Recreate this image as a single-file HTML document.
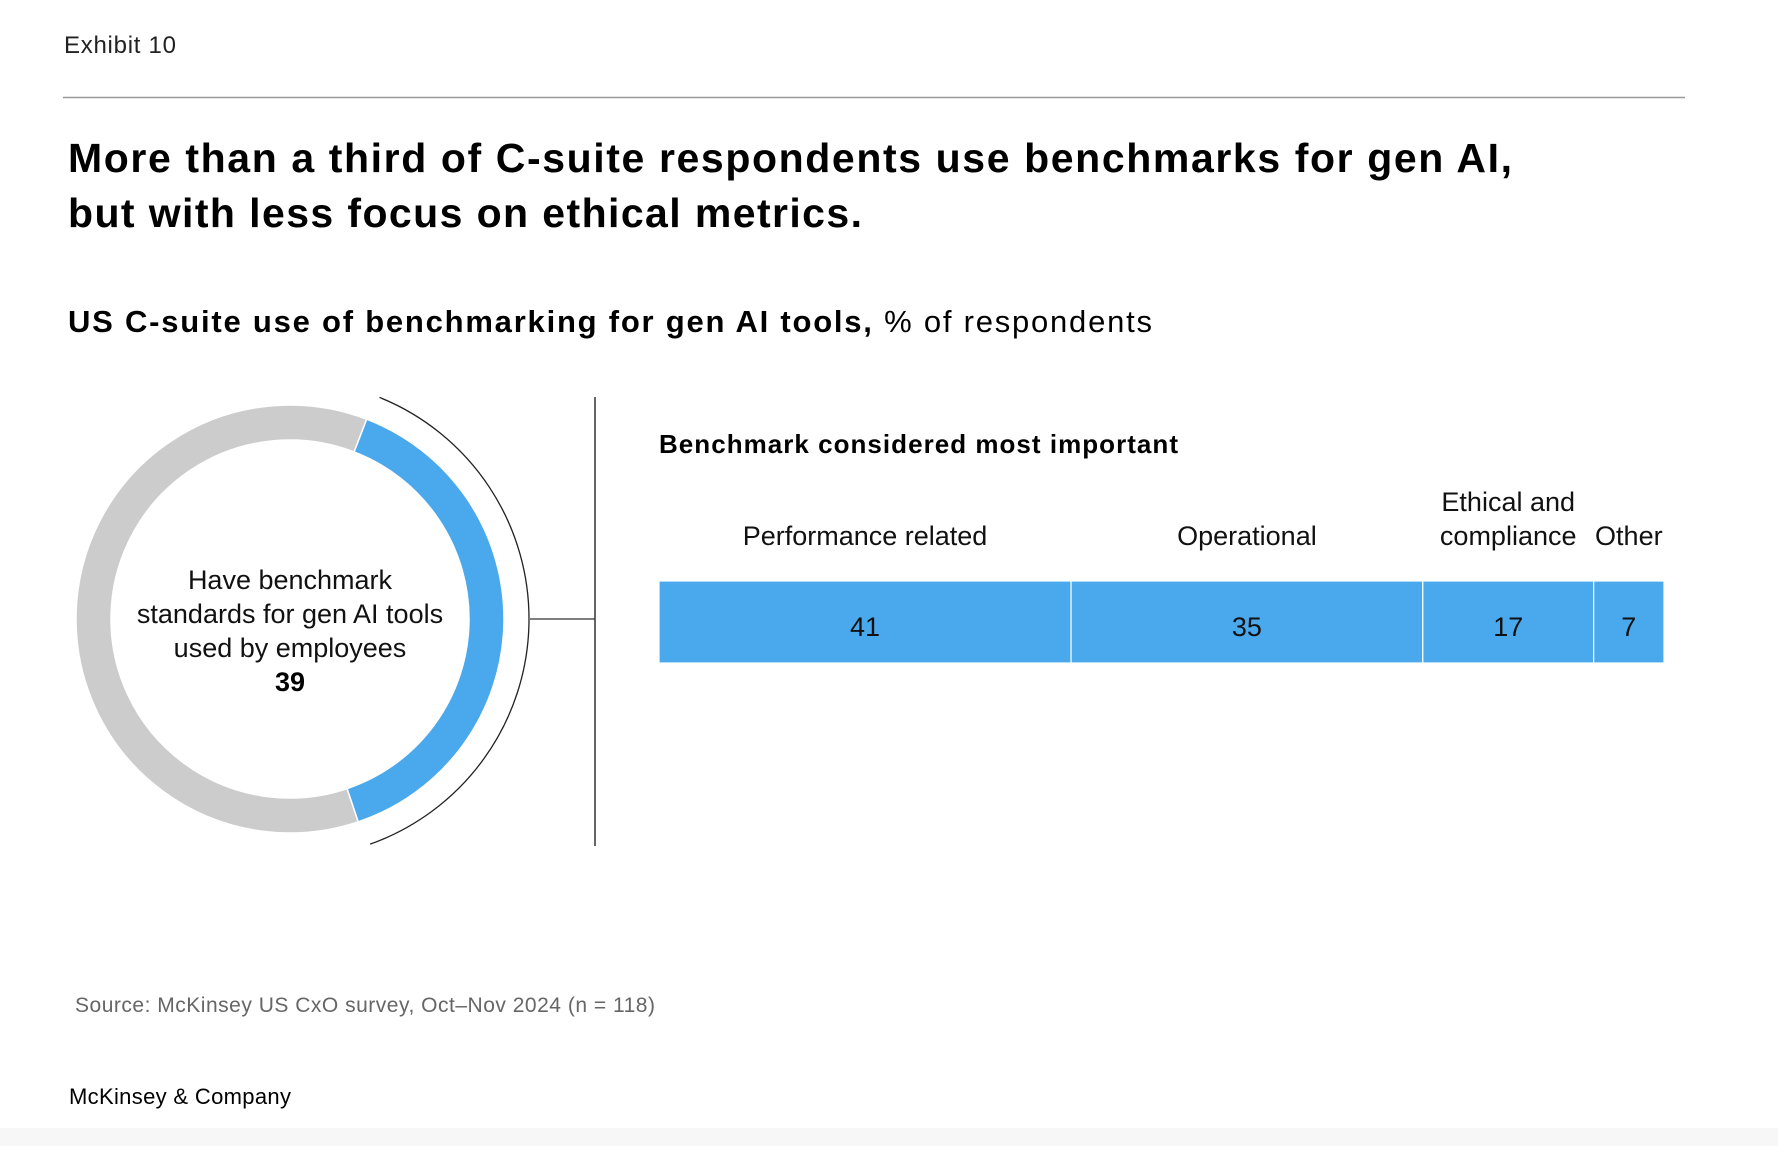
<!DOCTYPE html>
<html><head><meta charset="utf-8"><style>
html,body{margin:0;padding:0;background:#fff;}
body{width:1778px;height:1146px;overflow:hidden;position:relative;font-family:"Liberation Sans",sans-serif;}
</style></head>
<body>
<svg id="chart" width="1778" height="1146" viewBox="0 0 1778 1146" xmlns="http://www.w3.org/2000/svg" font-family="Liberation Sans, sans-serif">
<rect x="0" y="1128" width="1778" height="18" fill="#f7f7f7"/>
<text x="64" y="53" font-size="24" fill="#222" textLength="112" lengthAdjust="spacing">Exhibit 10</text>
<line x1="63" y1="97.5" x2="1685" y2="97.5" stroke="#999" stroke-width="1.5"/>
<text x="68" y="172" font-size="41" font-weight="bold" fill="#000" textLength="1444" lengthAdjust="spacing">More than a third of C-suite respondents use benchmarks for gen AI,</text>
<text x="68" y="227" font-size="41" font-weight="bold" fill="#000" textLength="794" lengthAdjust="spacing">but with less focus on ethical metrics.</text>
<text x="68" y="332" font-size="31" fill="#000" textLength="1084" lengthAdjust="spacing"><tspan font-weight="bold">US C-suite use of benchmarking for gen AI tools,</tspan> % of respondents</text>
<g id="donut"></g>
<line x1="530" y1="619" x2="595" y2="619" stroke="#333" stroke-width="1.3"/>
<line x1="595" y1="397" x2="595" y2="846" stroke="#333" stroke-width="1.5"/>
<text x="659" y="453" font-size="26" font-weight="bold" fill="#000" textLength="519" lengthAdjust="spacing">Benchmark considered most important</text>
<g id="bars"></g>
<text x="75" y="1012" font-size="21" fill="#666" textLength="580" lengthAdjust="spacing">Source: McKinsey US CxO survey, Oct–Nov 2024 (n = 118)</text>
<text x="69" y="1104" font-size="22" fill="#000" textLength="222" lengthAdjust="spacing">McKinsey &amp; Company</text>
</svg>
<script>
const donutValue = 39;
const donutLabelLines = ["Have benchmark", "standards for gen AI tools", "used by employees"];
const categories = [["Performance related"], ["Operational"], ["Ethical and", "compliance"], ["Other"]];
const values = [41, 35, 17, 7];

const NS = "http://www.w3.org/2000/svg";
function mk(tag, attrs, parent) {
  const e = document.createElementNS(NS, tag);
  for (const k in attrs) e.setAttribute(k, attrs[k]);
  parent.appendChild(e);
  return e;
}
const cx = 290, cy = 619, rOut = 214, rIn = 179, rArc = 239, startDeg = 21;
const donut = document.getElementById('donut');
function pt(r, deg) { const a = (deg - 90) * Math.PI / 180; return [cx + r * Math.cos(a), cy + r * Math.sin(a)]; }
function ring(a0, a1, color) {
  const large = (a1 - a0) > 180 ? 1 : 0;
  const p1 = pt(rOut, a0), p2 = pt(rOut, a1), p3 = pt(rIn, a1), p4 = pt(rIn, a0);
  return mk('path', {d: `M${p1} A${rOut} ${rOut} 0 ${large} 1 ${p2} L${p3} A${rIn} ${rIn} 0 ${large} 0 ${p4} Z`, fill: color, stroke: '#fff', 'stroke-width': 1.5}, donut);
}
const endDeg = startDeg + donutValue * 3.6;
const g1 = ring(endDeg, startDeg + 360, '#cccccc');


const b1 = ring(startDeg, endDeg, '#4aa8ec');


const a0 = pt(rArc, startDeg + 1), a1 = pt(rArc, endDeg - 1);
const arc = mk('path', {d: `M${a0} A${rArc} ${rArc} 0 0 1 ${a1}`, fill: 'none', stroke: '#222', 'stroke-width': 1.3}, donut);


donutLabelLines.forEach((l, i) => {
  const t = mk('text', {x: cx, y: 589 + i * 34, 'text-anchor': 'middle', 'font-size': 27, fill: '#111'}, donut);
  t.textContent = l;
  
  
});
const dv = mk('text', {x: cx, y: 691, 'text-anchor': 'middle', 'font-size': 27, 'font-weight': 'bold', fill: '#000'}, donut);
dv.textContent = donutValue;



const bars = document.getElementById('bars');
const x0 = 659, barW = 1005, y0 = 581, barH = 82;
const total = values.reduce((a, b) => a + b, 0);
const xs = v => v / total * barW;
let acc = 0;
values.forEach((v, i) => {
  const x = x0 + xs(acc), w = xs(v);
  const r = mk('rect', {x: x, y: y0, width: w, height: barH, fill: '#4aa8ec', stroke: '#fff', 'stroke-width': 1.2}, bars);
  
  
  const t = mk('text', {x: x + w / 2, y: 636, 'text-anchor': 'middle', 'font-size': 27, fill: '#111'}, bars);
  t.textContent = v;
  
  
  const lines = categories[i];
  lines.forEach((l, j) => {
    const c = mk('text', {x: x + w / 2, y: 545 - (lines.length - 1 - j) * 34, 'text-anchor': 'middle', 'font-size': 27, fill: '#111'}, bars);
    c.textContent = l;
    
    
  });
  acc += v;
});
</script>
</body></html>
